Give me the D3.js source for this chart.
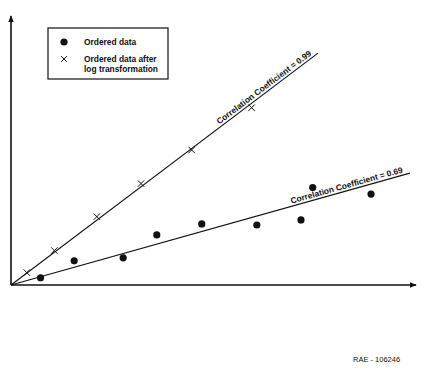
<!DOCTYPE html>
<html lang="en">
<head>
  <meta charset="UTF-8">
  <title>Ordered data correlation</title>
  <script src="https://d3js.org/d3.v7.min.js"></script>
  <style>
    body { margin: 0; background: #fff; }
    text { font-family: "Liberation Sans", Arial, sans-serif; fill: #111; }
  </style>
</head>
<body>
<svg id="chart" width="431" height="372"></svg>
<script>
// values (no units on the axes)
const orderedX = [0.73, 1.56, 2.77, 3.60, 4.71, 6.07, 7.16, 7.45, 8.89];
const orderedY = [0.27, 0.90, 1.01, 1.86, 2.27, 2.23, 2.42, 3.62, 3.38];
const logX = [0.39, 1.07, 2.12, 3.21, 4.46, 5.94];
const logY = [0.46, 1.28, 2.54, 3.77, 5.02, 6.59];
// fitted lines: start and end points
const fitLow = [[0, 0], [9.85, 4.16]];
const fitHigh = [[0, 0], [7.58, 8.62]];
const labelLow = "Correlation Coefficient = 0.69";
const labelHigh = "Correlation Coefficient = 0.99";
const legendLabels = ["Ordered data", "Ordered data after", "log transformation"];

const svg = d3.select("#chart");

const x = d3.scaleLinear().domain([0, 10]).range([11, 416]);
const y = d3.scaleLinear().domain([0, 10]).range([285, 16]);

// arrow head
svg.append("defs").append("marker")
    .attr("id", "arrow")
    .attr("viewBox", "0 0 10 10")
    .attr("refX", 9).attr("refY", 5)
    .attr("markerWidth", 7).attr("markerHeight", 7)
    .attr("markerUnits", "userSpaceOnUse")
    .attr("orient", "auto")
  .append("path")
    .attr("d", "M0,1 L10,5 L0,9 Z")
    .attr("fill", "#111");

// axes (no ticks)
svg.append("line")
    .attr("x1", x(0)).attr("y1", y(0))
    .attr("x2", x(10)).attr("y2", y(0))
    .attr("stroke", "#111").attr("stroke-width", 1.6)
    .attr("marker-end", "url(#arrow)");
svg.append("line")
    .attr("x1", x(0)).attr("y1", y(0))
    .attr("x2", x(0)).attr("y2", y(10))
    .attr("stroke", "#111").attr("stroke-width", 1.6)
    .attr("marker-end", "url(#arrow)");

const line = d3.line().x(d => x(d[0])).y(d => y(d[1]));

[[fitLow, labelLow], [fitHigh, labelHigh]].forEach(([pts, label]) => {
  svg.append("path")
      .attr("d", line(pts))
      .attr("fill", "none")
      .attr("stroke", "#111")
      .attr("stroke-width", 1.1);

  const x0 = x(pts[0][0]), y0 = y(pts[0][1]);
  const x1 = x(pts[1][0]), y1 = y(pts[1][1]);
  const ang = Math.atan2(y1 - y0, x1 - x0) * 180 / Math.PI;
  const ex = x0 + (x1 - x0) * 0.985, ey = y0 + (y1 - y0) * 0.985;
  svg.append("text")
      .attr("transform", `translate(${ex},${ey}) rotate(${ang})`)
      .attr("dy", -2.5)
      .attr("text-anchor", "end")
      .attr("font-size", 8.4)
      .attr("font-weight", "bold")
      .text(label);
});

// ordered data dots
svg.append("g")
  .selectAll("circle")
  .data(orderedX.map((d, i) => [d, orderedY[i]]))
  .join("circle")
    .attr("cx", d => x(d[0]))
    .attr("cy", d => y(d[1]))
    .attr("r", 3.6)
    .attr("fill", "#111");

// log transformed crosses
const cross = s => `M${-s},${-s}L${s},${s}M${-s},${s}L${s},${-s}`;
svg.append("g")
  .selectAll("path")
  .data(logX.map((d, i) => [d, logY[i]]))
  .join("path")
    .attr("transform", d => `translate(${x(d[0])},${y(d[1])})`)
    .attr("d", cross(3.2))
    .attr("stroke", "#111")
    .attr("stroke-width", 1)
    .attr("fill", "none");

// legend
const legend = svg.append("g").attr("transform", "translate(48,28)");
legend.append("rect")
    .attr("width", 120).attr("height", 51)
    .attr("fill", "#fff")
    .attr("stroke", "#111").attr("stroke-width", 1.2);
legend.append("circle")
    .attr("cx", 16).attr("cy", 14).attr("r", 3.6).attr("fill", "#111");
legend.append("path")
    .attr("transform", "translate(16,31)")
    .attr("d", cross(2.8))
    .attr("stroke", "#111").attr("stroke-width", 1).attr("fill", "none");
legend.selectAll("text.lab")
  .data(legendLabels)
  .join("text")
    .attr("class", "lab")
    .attr("x", 36)
    .attr("y", (d, i) => [17, 34, 44][i])
    .attr("font-size", 8.4)
    .attr("font-weight", "bold")
    .text(d => d);

svg.append("text")
    .attr("x", 353).attr("y", 362)
    .attr("font-size", 7.5)
    .text("RAE - 106246");
</script>
</body>
</html>
